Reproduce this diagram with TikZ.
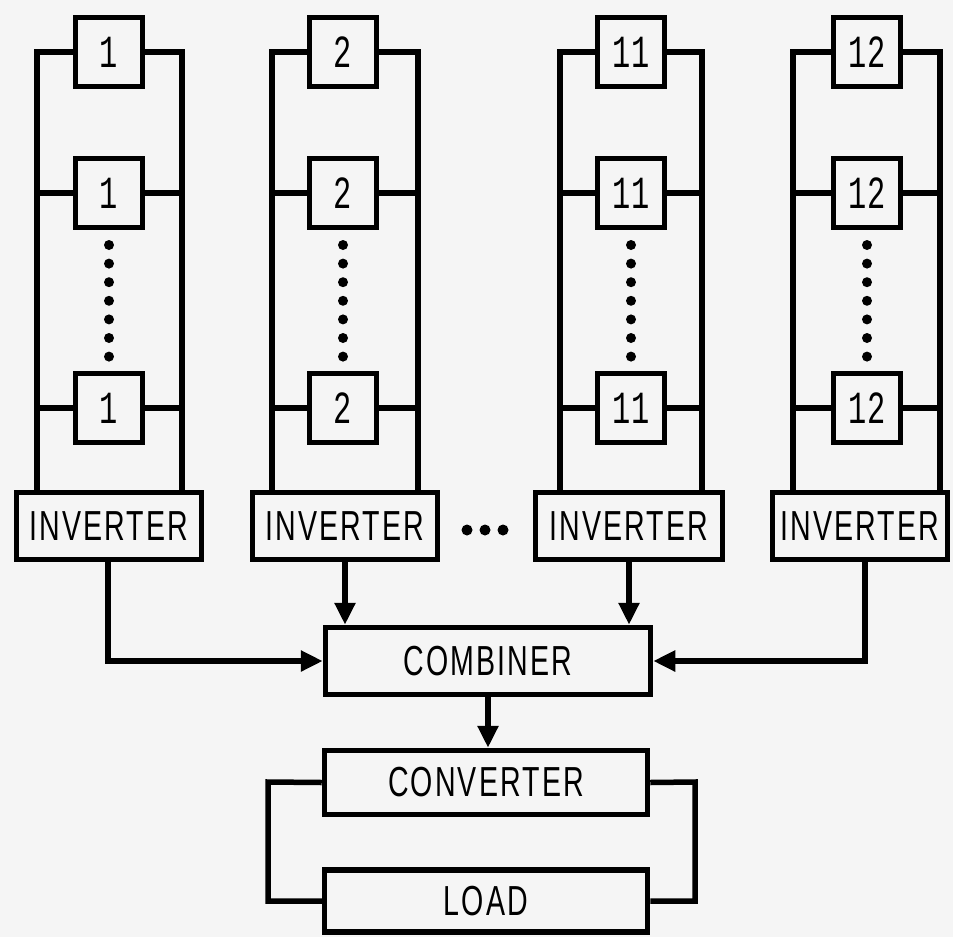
\documentclass[tikz,border=0pt]{standalone}
\usepackage{fontspec}
\usetikzlibrary{arrows.meta,calc}
\newfontfamily\labfont{Liberation Sans}[FakeStretch=0.68,LetterSpace=5]
\newfontfamily\numfont{Liberation Mono}[FakeStretch=0.66]
\definecolor{paper}{gray}{0.96}
\tikzset{
  wire/.style={line width=5.5pt},
  arr/.style={line width=5.5pt,-{Triangle[length=22pt,width=20pt]}},
  cell/.style={draw,line width=5.5pt,fill=paper,minimum width=67pt,minimum height=69pt,inner sep=0pt,font=\numfont\fontsize{46}{50}\selectfont},
  unit/.style={draw,line width=5.5pt,fill=paper,minimum height=67pt,inner sep=0pt,font=\labfont\fontsize{42}{46}\selectfont},
  dot/.style={fill=black}
}
\begin{document}
\begin{tikzpicture}[x=1pt,y=-1pt]
\fill[paper] (0,0) rectangle (953,937);
\useasboundingbox (0,0) rectangle (953,937);
% columns: box x / left rail / right rail / inverter x / inverter width / label / name
\foreach \bx/\lx/\rx/\ix/\iw/\lab/\c in {109/37/182/109/185/1/a, 343/272/418/345/185/2/b, 631/560/702/629/187/11/c, 867/793/940/860/175/12/d}{
  \node[unit,minimum width=\iw pt] (inv\c) at (\ix,526) {INVERTER};
  \node[cell] (\c1) at (\bx,52) {\lab};
  \node[cell] (\c2) at (\bx,193) {\lab};
  \node[cell] (\c3) at (\bx,408) {\lab};
  \coordinate (L\c) at (\lx,52);
  \coordinate (R\c) at (\rx,52);
  \draw[wire] (\c1.west) -- (L\c) -- (L\c |- inv\c.north);
  \draw[wire] (\c1.east) -- (R\c) -- (R\c |- inv\c.north);
  \draw[wire] (\c2.west) -- (\c2.west -| L\c);
  \draw[wire] (\c2.east) -- (\c2.east -| R\c);
  \draw[wire] (\c3.west) -- (\c3.west -| L\c);
  \draw[wire] (\c3.east) -- (\c3.east -| R\c);
  \foreach \k in {0,...,6}{
    \fill[dot] (\bx,245+18.6*\k) circle (5pt);
  }
}
% dots between inverters
\foreach \dx in {467,485,503}{ \fill[dot] (\dx,530) circle (5.5pt); }
% lower chain
\node[unit,minimum width=325pt] (comb) at (488,661) {COMBINER};
\node[unit,minimum width=323pt,minimum height=64pt] (conv) at (486,782.5) {CONVERTER};
\node[unit,minimum width=323pt,minimum height=62pt] (load) at (486,901) {LOAD};
\draw[arr] ([xshift=-1pt]inva.south) |- (comb.west);
\draw[arr] (invb.south) -- (invb.south |- comb.north);
\draw[arr] (invc.south) -- (invc.south |- comb.north);
\draw[arr] ([xshift=5pt]invd.south) |- (comb.east);
\draw[arr] (comb.south) -- (comb.south |- conv.north);
\coordinate (lpL) at (268,782);
\coordinate (lpR) at (695,782);
\draw[wire] (conv.west) -- (lpL) |- (load.west);
\draw[wire] (conv.east) -- (lpR) |- (load.east);
\end{tikzpicture}
\end{document}
